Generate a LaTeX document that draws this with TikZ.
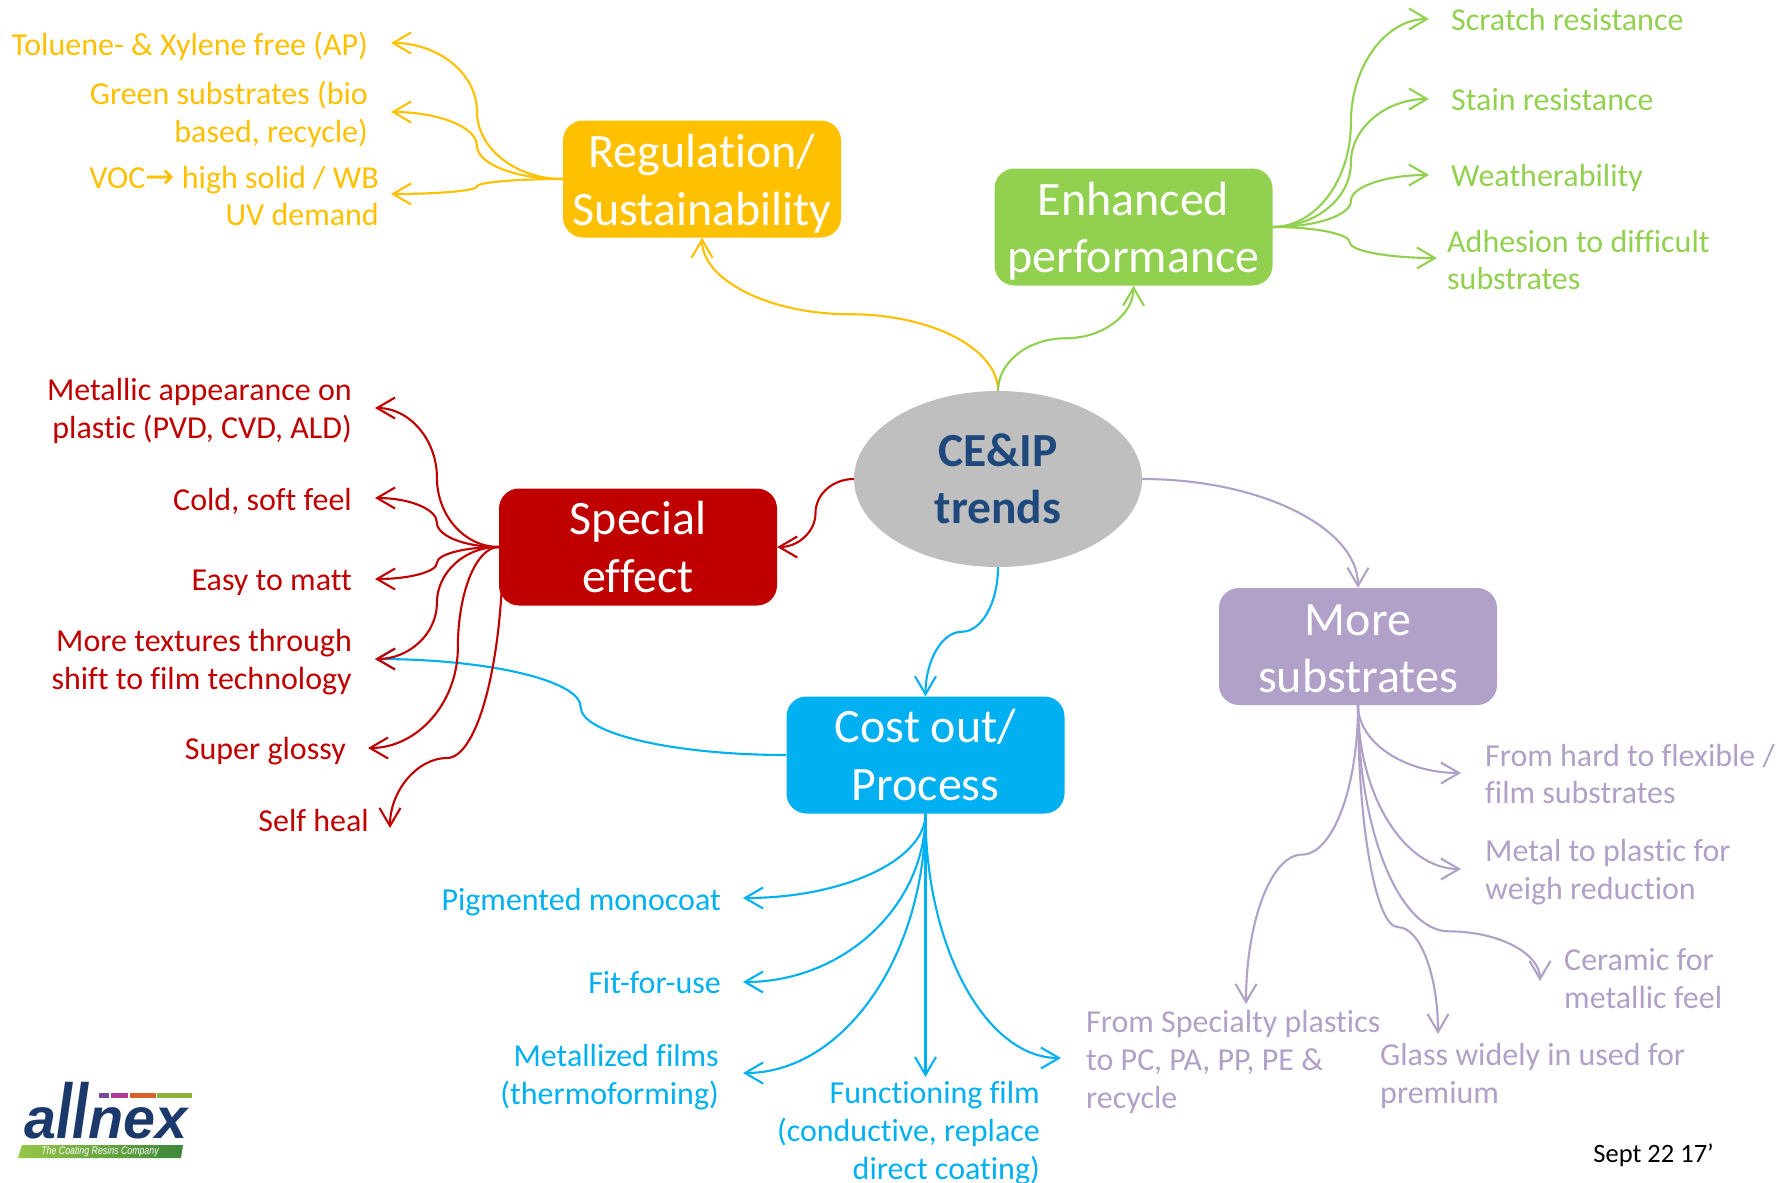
\documentclass[tikz,border=0pt]{standalone}
\usepackage{fontspec}
\setmainfont[Ligatures=NoCommon]{Carlito}
\newfontfamily\logofont{Liberation Sans}
\usetikzlibrary{arrows.meta,calc,shapes.geometric}
\pgfdeclarelayer{bg}
\pgfsetlayers{bg,main}
\definecolor{cOrange}{HTML}{FFC000}
\definecolor{cGreen}{HTML}{92D050}
\definecolor{cRed}{HTML}{C00000}
\definecolor{cBlue}{HTML}{00B0F0}
\definecolor{cPurple}{HTML}{B1A0C7}
\definecolor{cGray}{HTML}{BFBFBF}
\definecolor{cNavy}{HTML}{1F497D}
\definecolor{cLogo}{HTML}{1B3A6B}
\tikzset{
  x=1pt,y=-1pt,
  conn/.style={line width=2.1pt,-{Straight Barb[length=18pt,width=21pt,line width=2.1pt]}},
  hub/.style={rounded corners=20pt,minimum width=278pt,minimum height=117pt,inner sep=0pt,align=center,text=white,font=\fontsize{48}{57.5}\selectfont},
  leaf/.style={inner sep=0pt,align=left,font=\fontsize{32}{37.8}\selectfont},
  leafR/.style={inner sep=0pt,align=right,font=\fontsize{32}{37.8}\selectfont},
}
% two lines of hub text moved down inside a box of fixed size
\newcommand\hubtext[3]{\smash{\raisebox{#1}{\begin{tabular}[c]{@{}c@{}}#2\\#3\end{tabular}}}}
% S-curve, horizontal at both ends; #1 = fraction of the way (in x) of the bend
\newcommand\hcurve[4][.5]{%
  \coordinate (bendf) at ($(#3)!#1!(#4)$);
  \coordinate (bendm) at ($(#3)!.5!(#4)$);
  \coordinate (bendpt) at (bendf |- bendm);
  \draw[conn,#2] (#3) .. controls ($(#3)!.55!(bendpt |- #3)$) and ($(bendpt)!.55!(bendpt |- #3)$) .. (bendpt)
    .. controls ($(bendpt)!.55!(bendpt |- #4)$) and ($(#4)!.55!(bendpt |- #4)$) .. (#4);}
% S-curve, vertical at both ends; #1 = fraction of the way (in y) of the bend
\newcommand\vcurve[4][.5]{%
  \coordinate (bendf) at ($(#3)!#1!(#4)$);
  \coordinate (bendm) at ($(#3)!.5!(#4)$);
  \coordinate (bendpt) at (bendm |- bendf);
  \draw[conn,#2] (#3) .. controls ($(#3)!.55!(#3 |- bendpt)$) and ($(bendpt)!.55!(#3 |- bendpt)$) .. (bendpt)
    .. controls ($(bendpt)!.55!(#4 |- bendpt)$) and ($(#4)!.55!(#4 |- bendpt)$) .. (#4);}
% quarter curve: vertical at start, horizontal at end
\newcommand\vhcurve[3]{\draw[conn,#1] (#2) .. controls ($(#2)!.55!(#2 |- #3)$) and ($(#3)!.55!(#2 |- #3)$) .. (#3);}
% quarter curve: horizontal at start, vertical at end
\newcommand\hvcurve[3]{\draw[conn,#1] (#2) .. controls ($(#2)!.55!(#3 |- #2)$) and ($(#3)!.55!(#3 |- #2)$) .. (#3);}
\begin{document}
\begin{tikzpicture}
\useasboundingbox (0,0) rectangle (1791,1183);
% hubs
\node[ellipse,fill=cGray,minimum width=288pt,minimum height=176pt,inner sep=0pt,align=center,text=cNavy,font=\fontsize{47.5}{57}\selectfont\bfseries] (core) at (998,479) {CE\&IP\\trends};
\node[hub,fill=cOrange] (reg) at (702,179) {\hubtext{-12pt}{Regulation/}{Sustainability}};
\node[hub,fill=cGreen] (enh) at (1133.5,227) {\hubtext{-11.5pt}{Enhanced}{performance}};
\node[hub,fill=cRed] (spe) at (638,547) {Special\\effect};
\node[hub,fill=cBlue] (cost) at (925.5,755) {Cost out/\\Process};
\node[hub,fill=cPurple] (more) at (1358,646.5) {\hubtext{-12.2pt}{More}{substrates}};
% leaves
\begin{scope}[text=cOrange]
\node[leafR,anchor=east] (l1) at (368,46) {Toluene- \& Xylene free (AP)};
\node[leafR,anchor=east] (l2) at (368,114.5) {Green substrates (bio\\based, recycle)};
\node[leafR,anchor=east] (l3) at (379,196) {VOC\smash{\fontspec{DejaVu Sans}\fontsize{35}{37.8}\selectfont→} high solid / WB\\UV demand};
\end{scope}
\begin{scope}[text=cGreen]
\node[leaf,anchor=west] (g1) at (1451,20) {Scratch resistance};
\node[leaf,anchor=west] (g2) at (1451,100) {Stain resistance};
\node[leaf,anchor=west] (g3) at (1451,178) {Weatherability};
\node[leaf,anchor=west] (g4) at (1447,260) {Adhesion to difficult\\substrates};
\end{scope}
\begin{scope}[text=cRed]
\node[leafR,anchor=east] (r1) at (352,411) {Metallic appearance on\\plastic (PVD, CVD, ALD)};
\node[leafR,anchor=east] (r2) at (352,501) {Cold, soft feel};
\node[leafR,anchor=east] (r3) at (352,583) {Easy to matt};
\node[leafR,anchor=east] (r4) at (352,662) {More textures through\\shift to film technology};
\node[leafR,anchor=east] (r5) at (346,751) {Super glossy};
\node[leafR,anchor=east] (r6) at (369,820) {Self heal};
\end{scope}
\begin{scope}[text=cBlue]
\node[leafR,anchor=east] (b1) at (721,902) {Pigmented monocoat};
\node[leafR,anchor=east] (b2) at (721,983) {Fit-for-use};
\node[leafR,anchor=east] (b3) at (719,1077) {Metallized films\\(thermoforming)};
\node[leafR,anchor=east] (b4) at (1040,1133) {Functioning film\\(conductive, replace\\direct coating)};
\end{scope}
\begin{scope}[text=cPurple]
\node[leaf,anchor=west] (p1) at (1485,774) {From hard to flexible /\\film substrates};
\node[leaf,anchor=west] (p2) at (1485,872) {Metal to plastic for\\weigh reduction};
\node[leaf,anchor=west] (p3) at (1564,978.5) {Ceramic for\\metallic feel};
\node[leaf,anchor=west] (p4) at (1380,1076) {Glass widely in used for\\premium};
\node[leaf,anchor=west] (p5) at (1086,1062) {From Specialty plastics\\to PC, PA, PP, PE \&\\recycle};
\end{scope}
\node[inner sep=0pt,anchor=east,font=\fontsize{26.5}{30}\selectfont] (date) at (1714,1155) {Sept 22 17’};
% free ends of the connectors
\coordinate (eL1) at (391,43);
\coordinate (eL2) at (391,112);
\coordinate (eL3) at (391,194);
\coordinate (eG1) at (1429,19);
\coordinate (eG2) at (1429,99);
\coordinate (eG3) at (1429,175);
\coordinate (eG4) at (1437,258);
\coordinate (eR1) at (375,408);
\coordinate (eR2) at (375,498);
\coordinate (eR3) at (375,579);
\coordinate (eR4) at (375,659);
\coordinate (eR5) at (368,748);
\coordinate (eB1) at (743,898);
\coordinate (eB2) at (743,982);
\coordinate (eB3) at (743,1073);
\coordinate (eB4) at (925.5,1077);
\coordinate (eB5) at (1061,1058);
\coordinate (eP1) at (1461,773);
\coordinate (eP2) at (1461,869);
\coordinate (eP3) at (1540,981);
\coordinate (eP4) at (1438,1034);
\coordinate (eP5) at (1246,1004);
\begin{pgfonlayer}{bg}
\vcurve{cOrange}{core.north}{reg.south}
\vcurve{cGreen}{core.north}{enh.south}
\hcurve{cRed}{core.west}{spe.east}
\vcurve{cBlue}{core.south}{cost.north}
\hvcurve{cPurple}{core.east}{more.north}
\hcurve{cOrange}{reg.west}{eL1}
\hcurve{cOrange}{reg.west}{eL2}
\hcurve{cOrange}{reg.west}{eL3}
\hcurve{cGreen}{enh.east}{eG1}
\hcurve{cGreen}{enh.east}{eG2}
\hcurve{cGreen}{enh.east}{eG3}
\hcurve[.47]{cGreen}{enh.east}{eG4}
\hcurve{cBlue}{cost.west}{eR4}
\hcurve{cRed}{spe.west}{eR1}
\hcurve{cRed}{spe.west}{eR2}
\hcurve{cRed}{spe.west}{eR3}
\hcurve{cRed}{spe.west}{eR4}
\hcurve[.313]{cRed}{spe.west}{eR5}
\coordinate (eR6) at (390,828);
\coordinate (bR6) at (447,758);
\draw[conn,cRed] ([xshift=4pt]spe.west) .. controls +(0,117) and (477,758) .. (bR6) .. controls (418,758) and (390,790) .. (eR6);
\vhcurve{cBlue}{cost.south}{eB1}
\vhcurve{cBlue}{cost.south}{eB2}
\vhcurve{cBlue}{cost.south}{eB3}
\draw[conn,cBlue] (cost.south) -- (eB4);
\vhcurve{cBlue}{cost.south}{eB5}
\vhcurve{cPurple}{more.south}{eP1}
\vhcurve{cPurple}{more.south}{eP2}
\vcurve[.82]{cPurple}{more.south}{eP3}
\vcurve[.675]{cPurple}{more.south}{eP4}
\vcurve{cPurple}{more.south}{eP5}
\end{pgfonlayer}
% logo
\node[inner sep=0pt,anchor=base west,text=cLogo,font=\logofont\fontsize{57.5}{58}\selectfont\bfseries\itshape] (logo) at (24,1138) {a\scalebox{1}[1.35]{ll}nex};
\fill[fill={rgb,255:red,122;green,74;blue,154}] (99,1093) rectangle (109,1098);
\fill[fill={rgb,255:red,176;green,58;blue,154}] (111,1093) rectangle (128,1098);
\fill[fill={rgb,255:red,217;green,98;blue,43}] (130,1093) rectangle (156,1098);
\fill[fill={rgb,255:red,141;green,176;blue,60}] (157,1093) rectangle (192,1098);
\shade[left color={rgb,255:red,150;green,198;blue,70},right color={rgb,255:red,60;green,135;blue,60}] (22,1145) -- (183,1145) -- (181,1158) -- (18,1158) -- cycle;
\node[inner sep=0pt,text=white,font=\logofont\fontsize{11}{12}\selectfont\itshape] (tag) at (100,1152) {\scalebox{.8}[1]{The Coating Resins Company}};
\end{tikzpicture}
\end{document}
